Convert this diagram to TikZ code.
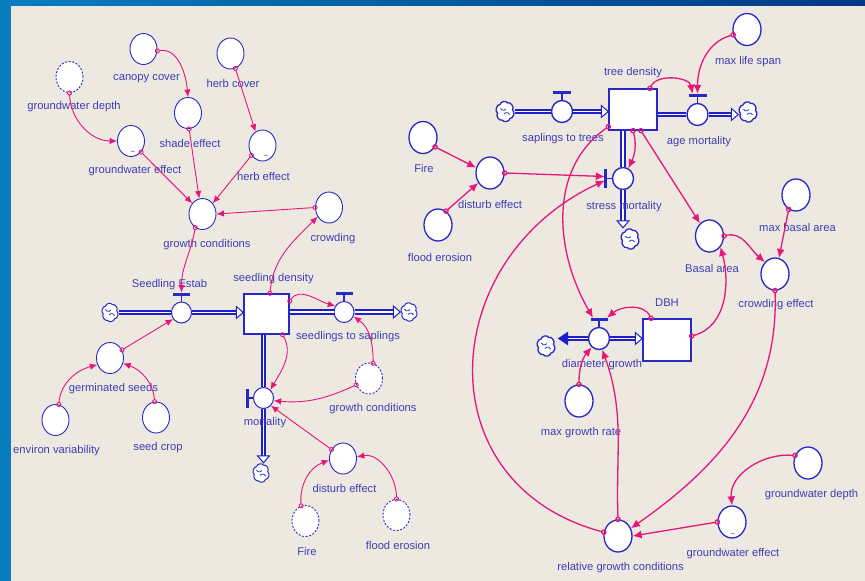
\documentclass[tikz,border=0pt]{standalone}
\usepackage{fontspec}
\setmainfont{Liberation Sans}
\usetikzlibrary{shapes.geometric,arrows.meta,calc}
\definecolor{panel}{RGB}{237,233,225}
\definecolor{frameL}{RGB}{8,125,190}
\definecolor{frameR}{RGB}{0,58,130}
\definecolor{nodeblue}{RGB}{40,40,200}
\definecolor{txt}{RGB}{62,62,178}
\definecolor{linkpink}{RGB}{230,22,122}
\definecolor{pipeblue}{RGB}{30,30,205}
\tikzset{
  aux/.style={ellipse, draw=nodeblue, fill=white, line width=0.9pt, minimum width=27pt, minimum height=31pt, inner sep=0pt},
  auxR/.style={aux, line width=1.3pt, minimum width=28pt, minimum height=32pt},
  ghost/.style={aux, dash pattern=on 2pt off 1.6pt},
  valve/.style={ellipse, draw=nodeblue, fill=white, line width=1pt, minimum width=20pt, minimum height=21pt, inner sep=0pt},
  valveR/.style={valve, line width=1.4pt, minimum width=21pt, minimum height=22pt},
  stock/.style={rectangle, draw=nodeblue, fill=white, line width=1.5pt, inner sep=0pt},
  cloudn/.style={ellipse, minimum width=17pt, minimum height=20pt, inner sep=0pt},
  cloudR/.style={ellipse, minimum width=19pt, minimum height=22pt, inner sep=0pt},
  cloudline/.style={draw=nodeblue, fill=white, line width=1pt, line join=round},
  curl/.style={draw=nodeblue, line width=0.8pt},
  lbl/.style={text=txt, font=\fontsize{11.2}{13}\selectfont, inner sep=0pt},
  tilde/.style={text=txt, font=\fontsize{8}{8}\selectfont, inner sep=0pt},
  pipe/.style={draw=pipeblue, line width=2pt, double=white, double distance=1.8pt},
  ptip/.style={draw=pipeblue, fill=white, line width=1pt, line join=miter},
  ptipf/.style={draw=pipeblue, fill=pipeblue, line width=1pt, line join=miter},
  hstem/.style={draw=nodeblue, line width=1.3pt},
  hbar/.style={draw=nodeblue, line width=3pt},
  conn/.style={draw=linkpink, line width=0.9pt, shorten <=-2.5pt, {Circle[open,length=5pt,width=5pt]}-{Latex[length=7.5pt,width=6.5pt]}},
  connR/.style={draw=linkpink, line width=1.3pt, shorten <=-2.8pt, {Circle[open,length=5.5pt,width=5.5pt]}-{Latex[length=9pt,width=8pt]}}
}
% #1 node name, #2 x radius, #3 y radius, #4 line width
\newcommand{\cloudoutline}[4]{%
  \draw[cloudline, line width=#4]
    ($(#1.center)+(10:#2 and #3)$)
    to[bend right=75] ($(#1.center)+(70:#2 and #3)$)
    to[bend right=75] ($(#1.center)+(130:#2 and #3)$)
    to[bend right=75] ($(#1.center)+(190:#2 and #3)$)
    to[bend right=75] ($(#1.center)+(250:#2 and #3)$)
    to[bend right=75] ($(#1.center)+(310:#2 and #3)$)
    to[bend right=75] ($(#1.center)+(10:#2 and #3)$) -- cycle;
  \draw[curl] ([shift={(-4.5,3)}]#1.center) arc[start angle=200,end angle=330,radius=3];
  \draw[curl] ([shift={(4.5,-3)}]#1.center) arc[start angle=20,end angle=150,radius=3];
}
\begin{document}
\begin{tikzpicture}[x=1pt,y=1pt]
\useasboundingbox (0,0) rectangle (865,-581);
\fill[left color=frameL, right color=frameR] (0,0) rectangle (865,-581);
\fill[panel] (11,-6) rectangle (865,-581);

% ---------------- left model ----------------
\node[ghost] (gwdL) at (69.5,-77) {};
\node[aux] (canopy) at (143.5,-49) {};
\node[aux] (herbc) at (230.5,-53.5) {};
\node[aux] (shade) at (188,-113) {};
\node[aux] (gweL) at (131,-141) {};
\node[aux] (herbe) at (262.5,-145.5) {};
\node[aux] (gcA) at (202.5,-214) {};
\node[aux] (crowd) at (329,-207.5) {};
\node[valve] (estab) at (181.5,-312.5) {};
\node[cloudn] (cA) at (110,-312.5) {};
\node[stock, minimum width=45pt, minimum height=40pt] (sd) at (266.5,-314) {};
\node[valve] (sts) at (344,-312) {};
\node[cloudn] (cB) at (409,-312) {};
\node[valve] (mort) at (263.5,-398) {};
\node[cloudn] (cC) at (261,-473) {};
\node[ghost] (gcB) at (369,-378.5) {};
\node[aux] (distL) at (343,-458.5) {};
\node[ghost] (fireL) at (305.5,-521) {};
\node[ghost] (floodL) at (396.5,-515) {};
\node[aux] (germ) at (110,-358) {};
\node[aux] (seed) at (156,-417.5) {};
\node[aux] (env) at (55.5,-420) {};
\cloudoutline{cA}{6.8}{8.4}{1pt}
\cloudoutline{cB}{6.8}{8.4}{1pt}
\cloudoutline{cC}{6.8}{8.4}{1pt}

\node[tilde] (tiA) at (133,-153) {\textasciitilde};
\node[tilde] (tiB) at (266,-157) {\textasciitilde};

% pipes left
\draw[pipe] (cA.east) -- (estab.west);
\draw[pipe] (estab.east) -- ([xshift=-7pt]estab.east -| sd.west);
\draw[ptip] (estab.east -| sd.west) -- ++(-7,6) -- ++(0,-12) -- cycle;
\draw[pipe] (sts.west -| sd.east) -- (sts.west);
\draw[pipe] (sts.east) -- ([xshift=-7pt]sts.east -| cB.west);
\draw[ptip] (sts.east -| cB.west) -- ++(-7,6) -- ++(0,-12) -- cycle;
\draw[pipe] (mort.north |- sd.south) -- (mort.north);
\draw[pipe] (mort.south) -- ([yshift=7pt]mort.south |- cC.north);
\draw[ptip] (mort.south |- cC.north) -- ++(-6,7) -- ++(12,0) -- cycle;

% valve handles left
\draw[hstem] (estab.north) -- ++(0,6);
\draw[hbar] ([shift={(-8.5,7.5)}]estab.north) -- ++(17,0);
\coordinate (estabH) at ([yshift=9pt]estab.north);
\draw[hstem] (sts.north) -- ++(0,6);
\draw[hbar] ([shift={(-8.5,7.5)}]sts.north) -- ++(17,0);
\draw[hstem] (mort.west) -- ++(-5,0);
\draw[hbar] ([shift={(-6,-9.5)}]mort.west) -- ++(0,19);

% labels left
\node[lbl] (lgwdL) at (74,-107) {groundwater depth};
\node[lbl] (lcanopy) at (146.5,-79) {canopy cover};
\node[lbl] (lherbc) at (233,-83) {herb cover};
\node[lbl] (lshade) at (190,-143) {shade effect};
\node[lbl] (lgweL) at (135,-171) {groundwater effect};
\node[lbl] (lherbe) at (263.5,-176) {herb effect};
\node[lbl] (lgcA) at (207,-245) {growth conditions};
\node[lbl] (lcrowd) at (333,-239) {crowding};
\node[lbl] (lestab) at (169.5,-284.5) {Seedling Estab};
\node[lbl] (lsd) at (273.5,-279) {seedling density};
\node[lbl] (lsts) at (348,-337) {seedlings to saplings};
\node[lbl] (lmort) at (265,-423) {mortality};
\node[lbl] (lgcB) at (373,-409) {growth conditions};
\node[lbl] (ldistL) at (344.5,-488) {disturb effect};
\node[lbl] (lfireL) at (307,-551) {Fire};
\node[lbl] (lfloodL) at (398,-545) {flood erosion};
\node[lbl] (lgerm) at (113.5,-389) {germinated seeds};
\node[lbl] (lseed) at (158,-448) {seed crop};
\node[lbl] (lenv) at (56.5,-451) {environ variability};

% connectors left
\draw[conn] (canopy.-8) to[out=10,in=95] (shade.north);
\draw[conn] (herbc.-72) -- (herbe.117);
\draw[conn] (gwdL.south) to[out=-88,in=180] (gweL.west);
\draw[conn] (gweL.-48) -- (gcA.134);
\draw[conn] (shade.-86) -- (gcA.102);
\draw[conn] (herbe.222) -- (gcA.46);
\draw[conn] (crowd.west) -- (gcA.east);
\draw[conn] ([xshift=3.5pt]sd.north) to[out=85,in=225] (crowd.219);
\draw[conn] (gcA.-118) to[out=-100,in=90] (estabH);
\draw[conn] (germ.34) -- (estab.218);
\draw[conn] (env.78) to[out=85,in=195] (germ.208);
\draw[conn] (seed.95) to[out=95,in=-20] (germ.-22);
\draw[conn] ([yshift=13pt]sd.east) to[out=55,in=165] (sts.145);
\draw[conn] ([xshift=16pt]sd.south) to[out=-60,in=60] (mort.50);
\draw[conn] (gcB.75) to[out=90,in=-35] (sts.-25);
\draw[conn] (gcB.206) to[out=-155,in=-5] (mort.-15);
\draw[conn] (distL.142) -- (mort.-46);
\draw[conn] (fireL.106) to[out=95,in=200] (distL.187);
\draw[conn] (floodL.north) to[out=90,in=10] (distL.7);

% ---------------- right model ----------------
\node[stock, minimum width=48pt, minimum height=41pt] (td) at (633,-109.5) {};
\node[cloudR] (cD) at (505,-111.5) {};
\node[valveR] (stt) at (562,-111.5) {};
\node[valveR] (am) at (697.5,-114.5) {};
\node[cloudR] (cE) at (748,-112) {};
\node[auxR] (mls) at (747,-29.5) {};
\node[valveR] (sm) at (623,-178.5) {};
\node[cloudR] (cF) at (630,-239) {};
\node[auxR] (fireR) at (423,-137.5) {};
\node[auxR] (distR) at (490,-173) {};
\node[auxR] (floodR) at (438,-225) {};
\node[auxR] (basal) at (709.5,-236) {};
\node[auxR] (mba) at (796,-195) {};
\node[auxR] (ce) at (775,-274) {};
\node[stock, minimum width=48pt, minimum height=42pt] (dbh) at (667,-340) {};
\node[valveR] (dg) at (599,-338.5) {};
\node[cloudR] (cG) at (546,-346) {};
\node[auxR] (mgr) at (579,-401) {};
\node[auxR] (rgc) at (618,-536) {};
\node[auxR] (gweR) at (732,-522) {};
\node[auxR] (gwdR) at (808,-463) {};
\cloudoutline{cD}{7.6}{9.2}{1.3pt}
\cloudoutline{cE}{7.6}{9.2}{1.3pt}
\cloudoutline{cF}{7.6}{9.2}{1.3pt}
\cloudoutline{cG}{7.6}{9.2}{1.3pt}

\node[tilde] (tiC) at (733,-535) {\textasciitilde};

% pipes right
\draw[pipe] (cD.east) -- (stt.west);
\draw[pipe] (stt.east) -- ([xshift=-7pt]stt.east -| td.west);
\draw[ptip] (stt.east -| td.west) -- ++(-7,6) -- ++(0,-12) -- cycle;
\draw[pipe] (am.west -| td.east) -- (am.west);
\draw[pipe] (am.east) -- ([xshift=-7pt]am.east -| cE.west);
\draw[ptip] (am.east -| cE.west) -- ++(-7,6) -- ++(0,-12) -- cycle;
\draw[pipe] (sm.north |- td.south) -- (sm.north);
\draw[pipe] (sm.south) -- ([yshift=7pt]sm.south |- cF.north);
\draw[ptip] (sm.south |- cF.north) -- ++(-6,7) -- ++(12,0) -- cycle;
\draw[pipe] (dg.east) -- ([xshift=-7pt]dg.east -| dbh.west);
\draw[ptip] (dg.east -| dbh.west) -- ++(-7,6) -- ++(0,-12) -- cycle;
\draw[pipe] (dg.west) -- ([xshift=11pt]dg.west -| cG.east);
\draw[ptipf] ([xshift=3pt]dg.west -| cG.east) -- ++(9,6) -- ++(0,-12) -- cycle;

% valve handles right
\draw[hstem] (stt.north) -- ++(0,6);
\draw[hbar] ([shift={(-9,7.5)}]stt.north) -- ++(18,0);
\draw[hstem] (am.north) -- ++(0,6);
\draw[hbar] ([shift={(-9,7.5)}]am.north) -- ++(18,0);
\coordinate (amH) at ([yshift=9pt]am.north);
\draw[hstem] (sm.west) -- ++(-5,0);
\draw[hbar] ([shift={(-6,-9.5)}]sm.west) -- ++(0,19);
\coordinate (smH) at ([xshift=-7pt]sm.west);
\draw[hstem] (dg.north) -- ++(0,6);
\draw[hbar] ([shift={(-8.5,7.5)}]dg.north) -- ++(17,0);
\coordinate (dgH) at ([yshift=9pt]dg.north);

% labels right
\node[lbl] (ltd) at (633,-73) {tree density};
\node[lbl] (lstt) at (563,-139) {saplings to trees};
\node[lbl] (lam) at (699,-142) {age mortality};
\node[lbl] (lmls) at (748,-62) {max life span};
\node[lbl] (lsm) at (624,-207) {stress mortality};
\node[lbl] (lfireR) at (424,-168) {Fire};
\node[lbl] (ldistR) at (490,-204) {disturb effect};
\node[lbl] (lfloodR) at (440,-257) {flood erosion};
\node[lbl] (lbasal) at (712,-268) {Basal area};
\node[lbl] (lmba) at (797.5,-227) {max basal area};
\node[lbl] (lce) at (776,-305) {crowding effect};
\node[lbl] (ldbh) at (667,-303) {DBH};
\node[lbl] (ldg) at (602,-365) {diameter growth};
\node[lbl] (lmgr) at (581,-433) {max growth rate};
\node[lbl] (lrgc) at (620.5,-568) {relative growth conditions};
\node[lbl] (lgweR) at (733,-554) {groundwater effect};
\node[lbl] (lgwdR) at (811.5,-495) {groundwater depth};

% connectors right
\draw[connR] (mls.201) to[out=195,in=90] (amH);
\draw[connR] ([xshift=17pt]td.north) to[out=65,in=100] ([xshift=-5pt]amH);
\draw[connR] (fireR.-38) -- (distR.159);
\draw[connR] (floodR.60) -- (distR.220);
\draw[connR] (distR.east) -- ([yshift=2pt]smH);
\draw[connR] (td.south) to[out=-75,in=65] (sm.62);
\draw[connR] ([xshift=8pt]td.south) -- (basal.127);
\draw[connR] ([yshift=4pt]td.south west) to[out=215,in=120] ([xshift=-6pt]dgH);
\draw[connR] ([xshift=-16pt]dbh.north) to[out=115,in=40] ([xshift=8pt]dgH);
\draw[connR] ([yshift=4pt]dbh.east) to[out=15,in=-75] (basal.-45);
\draw[connR] (basal.east) to[out=15,in=140] (ce.130);
\draw[connR] (mba.-117) -- (ce.76);
\draw[connR] (ce.south) to[out=-88,in=35] (rgc.31);
\draw[connR] (mgr.north) to[out=90,in=230] (dg.230);
\draw[connR] (rgc.north) to[out=92,in=-70] (dg.-74);
\draw[connR] (rgc.165) to[out=165,in=205,looseness=1.35] ([yshift=-2pt]smH);
\draw[connR] (gwdR.150) to[out=175,in=95] (gweR.north);
\draw[connR] (gweR.west) -- (rgc.east);
\end{tikzpicture}
\end{document}
